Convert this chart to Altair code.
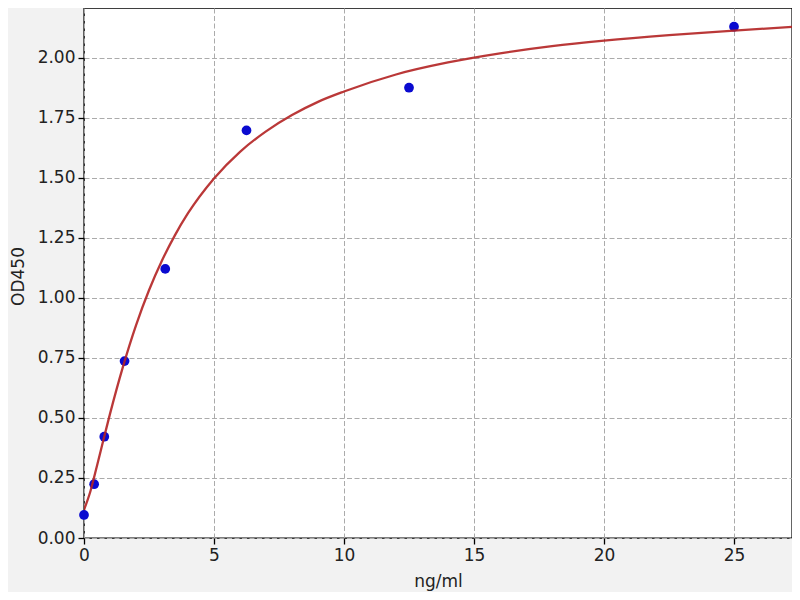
import altair as alt
import pandas as pd

# Standard points (ng/ml, OD450)
conc = [0, 0.39, 0.78, 1.56, 3.125, 6.25, 12.5, 25]
od = [0.096, 0.224, 0.422, 0.737, 1.121, 1.698, 1.876, 2.130]

# Fitted curve
curve_x = [0, 0.25, 0.5, 0.75, 1, 1.5, 2, 2.5, 3, 3.5, 4, 5, 6, 7, 8, 9, 10,
           12, 14, 16, 18, 20, 22.5, 25, 27.5]
curve_y = [0.117, 0.196, 0.301, 0.410, 0.517, 0.714, 0.886, 1.032, 1.156, 1.262,
           1.353, 1.498, 1.609, 1.694, 1.762, 1.817, 1.860, 1.931, 1.981, 2.019,
           2.049, 2.072, 2.095, 2.114, 2.129]

x_ticks = [0, 5, 10, 15, 20, 25]
y_ticks = [0, 0.25, 0.5, 0.75, 1.0, 1.25, 1.5, 1.75, 2.0]

pts = pd.DataFrame({"x": conc, "y": od})
crv = pd.DataFrame({"x": curve_x, "y": curve_y})

xs = alt.Scale(domain=[0, 27.23], nice=False, zero=False, clamp=True)
ys = alt.Scale(domain=[0, 2.208], nice=False, zero=False)

xaxis = alt.Axis(values=x_ticks, title="ng/ml", grid=True, domain=False,
                 format="d", titleY=43, titleBaseline="middle", labelFlush=False)
yaxis = alt.Axis(values=y_ticks, title="OD450", grid=True, domain=False,
                 format=".2f", titleX=-66, titleY=268, titleAngle=-90,
                 titleAlign="center", titleBaseline="middle", labelFlush=False)

points = alt.Chart(pts).mark_circle(size=95, color="#0a0ad0", opacity=1).encode(
    x=alt.X("x:Q", scale=xs, axis=xaxis),
    y=alt.Y("y:Q", scale=ys, axis=yaxis),
)

line = alt.Chart(crv).mark_line(color="#b22222", strokeWidth=2.3, interpolate="monotone",
                                opacity=0.9, clip=True).encode(
    x=alt.X("x:Q", scale=xs),
    y=alt.Y("y:Q", scale=ys),
)

chart = alt.layer(points, line).properties(
    width=708, height=530,
    background="#f2f2f2",
    padding={"left": 76, "top": 0, "right": 0, "bottom": 54},
    autosize=alt.AutoSizeParams(type="none"),
).configure_view(
    stroke="black", strokeWidth=1.4, fill="white"
).configure_axis(
    labelFont="DejaVu Sans", labelFontSize=17, labelColor="#222222",
    titleFont="DejaVu Sans", titleFontSize=17, titleFontWeight="normal", titleColor="#222222",
    tickColor="black", tickSize=6, tickWidth=1.3,
    gridColor="#ababab", gridDash=[5, 2.5], gridWidth=1, gridOpacity=1,
    labelPadding=3,
)

chart.save("out.html", embed_options={"renderer": "svg", "actions": False})
